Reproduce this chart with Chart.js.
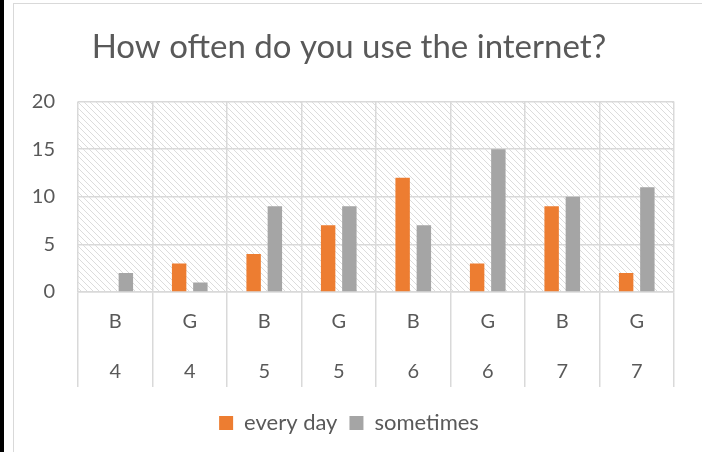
<!DOCTYPE html>
<html>
<head>
<meta charset="utf-8">
<script src="https://cdn.jsdelivr.net/npm/chart.js@4"></script>
<style>
  html, body { margin: 0; padding: 0; background: #fff; }
  #wrap { position: relative; width: 702px; height: 452px; overflow: hidden; }
  #faixa { position: absolute; left: 0; top: 0; width: 4px; height: 452px; background: #000; }
  #moldura { position: absolute; left: 13px; top: 3px; width: 720px; height: 480px;
             border-left: 1.5px solid #d9d9d9; border-top: 1.5px solid #d9d9d9; }
  canvas { position: absolute; left: 0; top: 0; }
</style>
</head>
<body>
<div id="wrap">
  <div id="faixa"></div>
  <div id="moldura"></div>
  <canvas id="grafico" width="702" height="452"></canvas>
</div>
<script>
// dados
const sexo = ['B', 'G', 'B', 'G', 'B', 'G', 'B', 'G'];
const serie = ['4', '4', '5', '5', '6', '6', '7', '7'];
const todoDia = [0, 3, 4, 7, 12, 3, 9, 2];
const asVezes = [2, 1, 9, 9, 7, 15, 10, 11];

const fonte = 'Lato, "Open Sans", sans-serif';
const corTexto = '#595959';
const corGrade = '#d9d9d9';

// fundo hachurado da área do gráfico
const fundoHachurado = {
    id: 'fundoHachurado',
    beforeDraw(chart) {
        const { ctx, chartArea: a } = chart;
        const tam = 6;
        const tile = document.createElement('canvas');
        tile.width = tam;
        tile.height = tam;
        const t = tile.getContext('2d');
        t.fillStyle = '#fff';
        t.fillRect(0, 0, tam, tam);
        t.strokeStyle = '#dcdcdc';
        t.lineWidth = 1;
        t.beginPath();
        t.moveTo(0, 0); t.lineTo(tam, tam);
        t.moveTo(-1, tam - 1); t.lineTo(1, tam + 1);
        t.moveTo(tam - 1, -1); t.lineTo(tam + 1, 1);
        t.stroke();
        ctx.save();
        ctx.fillStyle = ctx.createPattern(tile, 'repeat');
        ctx.fillRect(a.left, a.top, a.right - a.left, a.bottom - a.top);
        ctx.restore();
    }
};

const rotulos = sexo.map((s, i) => [s, serie[i]]);

new Chart(document.getElementById('grafico').getContext('2d'), {
    type: 'bar',
    data: {
        labels: rotulos,
        datasets: [{
            label: 'every day',
            data: todoDia,
            backgroundColor: '#ED7D31',
            categoryPercentage: 0.57,
            barPercentage: 0.68
        }, {
            label: 'sometimes',
            data: asVezes,
            backgroundColor: '#A5A5A5',
            categoryPercentage: 0.57,
            barPercentage: 0.68
        }]
    },
    options: {
        responsive: false,
        animation: false,
        layout: { padding: { left: 24, right: 28, top: 0, bottom: 8 } },
        plugins: {
            title: {
                display: true,
                text: 'How often do you use the internet?',
                color: corTexto,
                font: { family: fonte, size: 33, weight: 'normal', lineHeight: 1.2 },
                padding: { top: 28, bottom: 34 }
            },
            legend: {
                position: 'bottom',
                labels: {
                    color: corTexto,
                    font: { family: fonte, size: 22 },
                    boxWidth: 14,
                    boxHeight: 14,
                    padding: 12
                }
            },
            tooltip: { enabled: false }
        },
        scales: {
            x: {
                grid: { offset: true, color: corGrade, lineWidth: 1.5, tickLength: 95, drawTicks: true },
                border: { color: corGrade, width: 1.5 },
                ticks: {
                    color: corTexto,
                    font: { family: fonte, size: 20, lineHeight: '50px' },
                    padding: -90,
                    maxRotation: 0,
                    autoSkip: false
                },
                afterFit(s) { s.height = 108; }
            },
            y: {
                min: 0,
                max: 20,
                ticks: {
                    stepSize: 5,
                    color: corTexto,
                    font: { family: fonte, size: 20 },
                    padding: 23
                },
                grid: { color: corGrade, lineWidth: 1.5, drawTicks: false },
                border: { display: false },
                afterFit(s) { s.width = 54; }
            }
        }
    },
    plugins: [fundoHachurado]
});
</script>
</body>
</html>
